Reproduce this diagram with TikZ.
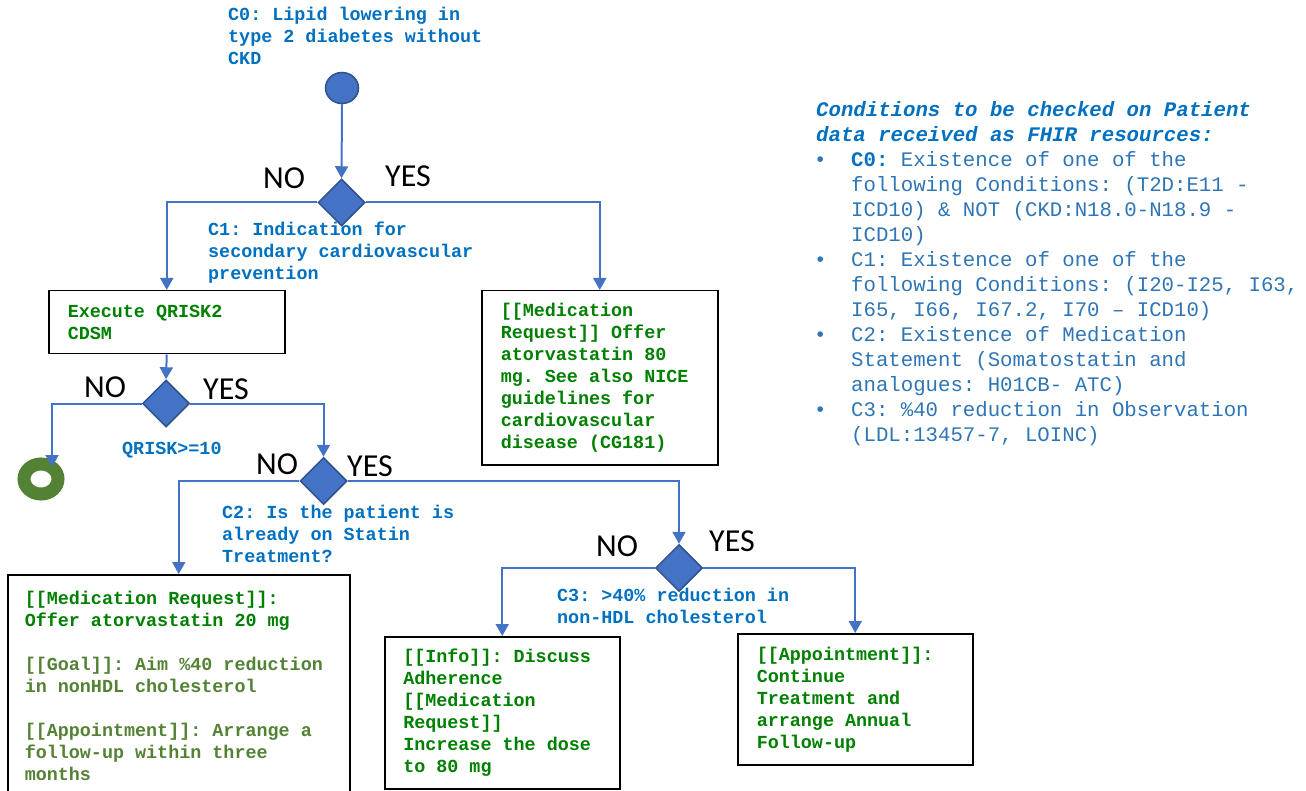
\documentclass[tikz,border=0pt]{standalone}
\usepackage{fontspec}
\newfontfamily\mono{Liberation Mono}
\newfontfamily\ynfont{Carlito}
\usetikzlibrary{arrows.meta,shapes.geometric}

\definecolor{flowblue}{HTML}{4472C4}
\definecolor{flowedge}{HTML}{2F528F}
\definecolor{condblue}{HTML}{0070C0}
\definecolor{notecol}{HTML}{2E75B6}
\definecolor{actgreen}{HTML}{008000}
\definecolor{olivegreen}{HTML}{548235}

\newcommand{\firstln}{\rule{0pt}{15pt}}
% monospaced text with fixed word spaces of one character cell
\newcommand{\monotext}[2]{\mono\fontsize{#1}{#2}\selectfont\frenchspacing\spaceskip=0.6em\relax}
% first line of a box, padded to the box's text width
\newcommand{\boxline}[2]{\makebox[#1][l]{#2}}
\newcommand{\indentln}{\hspace*{37pt}}
\newcommand{\bulletln}{\makebox[37pt][l]{•}}

\tikzset{
  flow/.style={draw=flowblue, line width=2pt, -{Triangle[width=13pt,length=12pt]}},
  decision/.style={diamond, aspect=1, fill=flowblue, draw=flowedge, line width=1.5pt,
    minimum width=47pt, minimum height=47pt, inner sep=0pt},
  actbox/.style={draw=black, line width=1.5pt, fill=white, anchor=north west, align=left,
    inner xsep=19pt, inner ysep=0pt, text=actgreen,
    font=\bfseries\monotext{18.4}{22}},
  cond/.style={anchor=north west, inner sep=0pt, align=left, text=condblue,
    font=\bfseries\monotext{18.4}{22}},
  yn/.style={inner sep=0pt, text=black, font=\ynfont\fontsize{32}{32}\selectfont},
}

\begin{document}
\begin{tikzpicture}[x=1pt,y=-1pt]
\useasboundingbox (0,0) rectangle (1306,791);

% start / end symbols
\node[ellipse, fill=flowblue, draw=flowedge, line width=1.5pt, minimum width=33pt,
  minimum height=31pt, inner sep=0pt] (start) at (342,88) {};
\node[ellipse, draw=olivegreen, line width=13pt, minimum width=34pt, minimum height=30pt,
  inner sep=0pt] (stop) at (41,479) {};
\coordinate (stopin) at (52,467);

% decisions
\node[decision] (d1) at (341.5,202.5) {};
\node[decision] (d2) at (166,403.5) {};
\node[decision] (d3) at (323.5,481) {};
\node[decision] (d4) at (679,568) {};

% actions
\node[actbox, minimum height=63pt] (qrisk) at (48,290)
  {\boxline{198pt}{Execute QRISK2}\\CDSM};
\node[actbox, minimum height=174pt] (ator80) at (481,290)
  {\boxline{198pt}{[[Medication}\\Request]] Offer\\atorvastatin 80\\mg. See also NICE\\guidelines for\\cardiovascular\\disease (CG181)};
\node[actbox, inner xsep=17pt, minimum height=222pt] (ator20) at (7,574)
  {\boxline{308pt}{[[Medication Request]]:}\\Offer atorvastatin 20 mg\\[22pt]
   \color{olivegreen}[[Goal]]: Aim \%40 reduction\\\color{olivegreen}in nonHDL cholesterol\\[22pt]
   \color{olivegreen}[[Appointment]]: Arrange a\\\color{olivegreen}follow-up within three\\\color{olivegreen}months};
\node[actbox, inner xsep=18.5pt, minimum height=152pt] (adher) at (384,636)
  {\boxline{198pt}{[[Info]]: Discuss}\\Adherence\\{}[[Medication\\Request]]\\Increase the dose\\to 80 mg};
\node[actbox, minimum height=131pt] (annual) at (737,633)
  {\boxline{197pt}{[[Appointment]]:}\\Continue\\Treatment and\\arrange Annual\\Follow-up};

% condition labels
\node[cond] (c0) at (228,5) {\firstln C0: Lipid lowering in\\type 2 diabetes without\\CKD};
\node[cond] (c1) at (208,220) {\firstln C1: Indication for\\secondary cardiovascular\\prevention};
\node[cond] (qr) at (122,439) {\firstln QRISK>=10};
\node[cond] (c2) at (222,503) {\firstln C2: Is the patient is\\already on Statin\\Treatment?};
\node[cond] (c3) at (557,586) {\firstln C3: >40\% reduction in\\non-HDL cholesterol};

% branch labels
\node[yn] (n1) at (284,178) {NO};
\node[yn] (y1) at (408,176) {YES};
\node[yn] (n2) at (105,387) {NO};
\node[yn] (y2) at (226,389) {YES};
\node[yn] (n3) at (277,464) {NO};
\node[yn] (y3) at (370,466) {YES};
\node[yn] (n4) at (617,546) {NO};
\node[yn] (y4) at (732,541) {YES};

% connectors
\draw[flow] (start.south) -- (d1.north);
\draw[flow] (d1.west) -| (qrisk.north);
\draw[flow] (d1.east) -| (ator80.north);
\draw[flow] (qrisk.south) -- (d2.north);
\draw[flow] (d2.west) -| (stopin);
\draw[flow] (d2.east) -| (d3.north);
\draw[flow] (d3.west) -| (ator20.north);
\draw[flow] (d3.east) -| (d4.north);
\draw[flow] (d4.west) -| (adher.north);
\draw[flow] (d4.east) -| (annual.north);

% condition notes
\node[anchor=north west, inner sep=0pt, align=left, text=notecol,
  font=\monotext{20.7}{25}] (notes) at (814,98)
  {\rule{0pt}{18pt}\hspace*{2pt}{\color{condblue}\bfseries\itshape Conditions to be checked on Patient}\\
   \hspace*{2pt}{\color{condblue}\bfseries\itshape data received as FHIR resources:}\\
   \bulletln{\color{condblue}\bfseries C0:} Existence of one of the\\
   \indentln following Conditions: (T2D:E11 -\\
   \indentln ICD10) \& NOT (CKD:N18.0-N18.9 -\\
   \indentln ICD10)\\
   \bulletln C1: Existence of one of the\\
   \indentln following Conditions: (I20-I25, I63,\\
   \indentln I65, I66, I67.2, I70 – ICD10)\\
   \bulletln C2: Existence of Medication\\
   \indentln Statement (Somatostatin and\\
   \indentln analogues: H01CB- ATC)\\
   \bulletln C3: \%40 reduction in Observation\\
   \indentln (LDL:13457-7, LOINC)};
\end{tikzpicture}
\end{document}
